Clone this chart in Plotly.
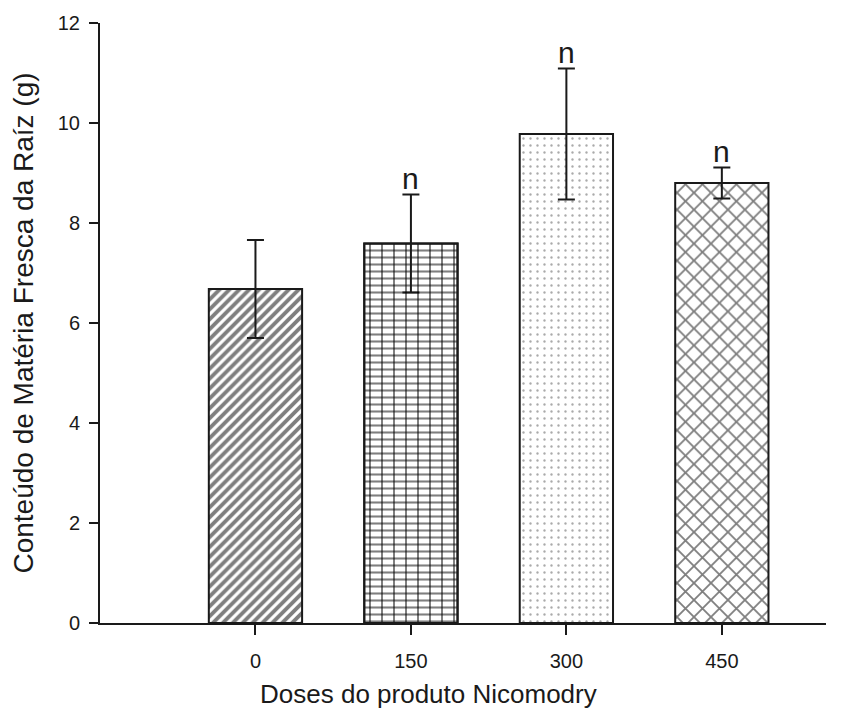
import plotly.graph_objects as go

doses = ["0", "150", "300", "450"]
means = [6.68, 7.59, 9.78, 8.80]
errors = [0.98, 0.98, 1.31, 0.31]
letters = ["", "n", "n", "n"]
patterns = ["/", "-", ".", "x"]
pattern_sizes = [7, 7, 7, 12]
pattern_solidity = [0.55, 0.3, 0.09, 0.28]
pattern_colors = ["black", "black", "#555555", "black"]
# second pattern layer (brick verticals) for the 150 dose bar
overlay_patterns = ["", "|", "", ""]

FONT = "Liberation Sans, Arial, sans-serif"

fig = go.Figure()
for i, d in enumerate(doses):
    fig.add_trace(go.Bar(
        x=[i], y=[means[i]], width=0.6,
        marker=dict(color="white", line=dict(color="#1a1a1a", width=2),
                    pattern=dict(shape=patterns[i], size=pattern_sizes[i],
                                 solidity=pattern_solidity[i],
                                 fgcolor=pattern_colors[i], bgcolor="white",
                                 fillmode="overlay")),
        error_y=dict(type="data", array=[errors[i]], visible=True,
                     color="#1a1a1a", thickness=2, width=8.5),
        showlegend=False, hoverinfo="skip",
    ))
    if overlay_patterns[i]:
        fig.add_trace(go.Bar(
            x=[i], y=[means[i]], width=0.6,
            marker=dict(color="rgba(0,0,0,0)", line=dict(color="#1a1a1a", width=2),
                        pattern=dict(shape=overlay_patterns[i], size=12, solidity=0.17,
                                     fgcolor="black", bgcolor="rgba(0,0,0,0)",
                                     fillmode="overlay")),
            showlegend=False, hoverinfo="skip",
        ))

for i, t in enumerate(letters):
    if t:
        fig.add_annotation(x=i, y=means[i] + errors[i], text=t, showarrow=False,
                           yanchor="bottom", yshift=-2, xanchor="center",
                           font=dict(family=FONT, size=30, color="#1a1a1a"))

fig.add_annotation(text="Doses do produto Nicomodry", xref="paper", yref="paper",
                   x=0.452, y=-0.119, xanchor="center", yanchor="middle",
                   showarrow=False, font=dict(family=FONT, size=26, color="#1a1a1a"))

fig.update_layout(
    width=857, height=713,
    margin=dict(l=92, r=39, t=15, b=98),
    paper_bgcolor="white", plot_bgcolor="white",
    font=dict(family=FONT, color="#1a1a1a"),
    barmode="overlay",
)
fig.update_xaxes(
    range=[-1, 3.67], tickmode="array", tickvals=list(range(len(doses))),
    ticktext=doses, showline=True, linecolor="#1a1a1a", linewidth=2,
    ticks="outside", ticklen=10, tickwidth=1.5, tickcolor="#1a1a1a",
    showgrid=False, zeroline=False, tickfont=dict(size=20),
    ticklabelstandoff=9, automargin=False,
)
fig.update_yaxes(
    range=[0, 12], dtick=2, showline=True, linecolor="#1a1a1a", linewidth=2,
    ticks="outside", ticklen=9, tickwidth=2, tickcolor="#1a1a1a",
    showgrid=False, zeroline=False, tickfont=dict(size=20),
    ticklabelstandoff=5, automargin=False,
    title=dict(text="Conteúdo de Matéria Fresca da Raíz (g)", font=dict(size=28), standoff=18),
)

fig.write_html("out.html")
